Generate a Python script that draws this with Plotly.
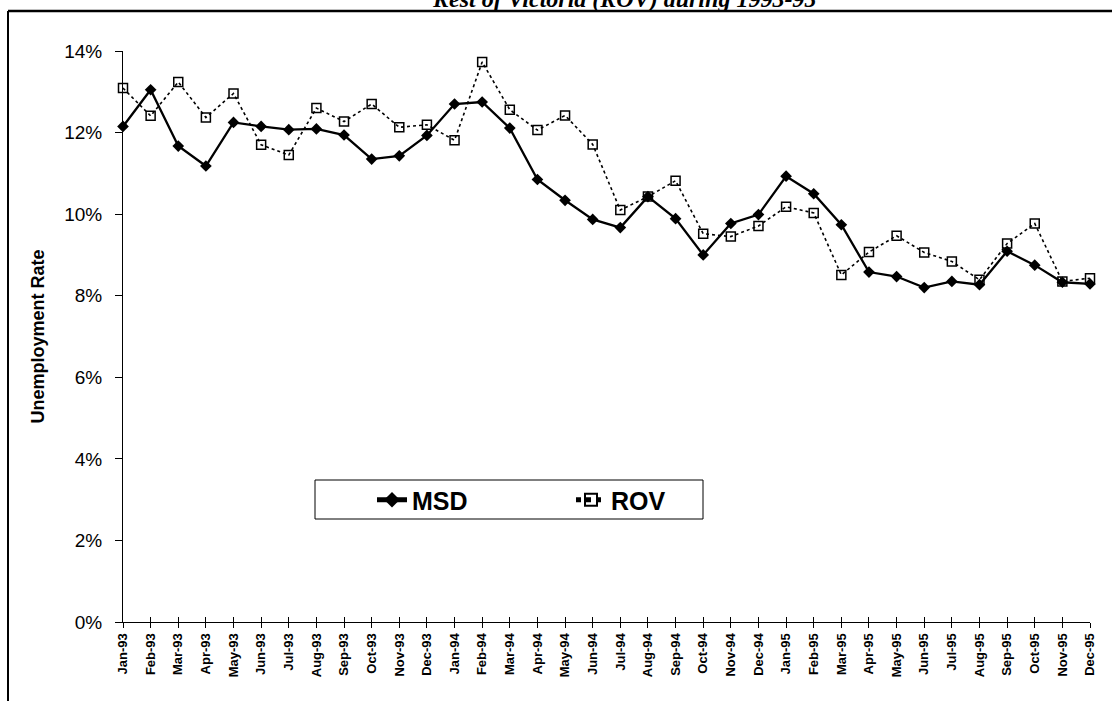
import plotly.graph_objects as go

months = ["Jan-93","Feb-93","Mar-93","Apr-93","May-93","Jun-93","Jul-93","Aug-93","Sep-93","Oct-93","Nov-93","Dec-93",
          "Jan-94","Feb-94","Mar-94","Apr-94","May-94","Jun-94","Jul-94","Aug-94","Sep-94","Oct-94","Nov-94","Dec-94",
          "Jan-95","Feb-95","Mar-95","Apr-95","May-95","Jun-95","Jul-95","Aug-95","Sep-95","Oct-95","Nov-95","Dec-95"]

msd = [12.15, 13.05, 11.67, 11.18, 12.25, 12.15, 12.07, 12.09, 11.94, 11.35, 11.43, 11.93,
       12.70, 12.75, 12.11, 10.85, 10.34, 9.87, 9.67, 10.43, 9.89, 9.00, 9.77, 9.99,
       10.93, 10.50, 9.74, 8.58, 8.47, 8.20, 8.35, 8.27, 9.09, 8.75, 8.33, 8.29]

rov = [13.09, 12.41, 13.24, 12.37, 12.96, 11.70, 11.45, 12.60, 12.27, 12.70, 12.13, 12.19,
       11.81, 13.73, 12.56, 12.06, 12.42, 11.71, 10.10, 10.43, 10.82, 9.52, 9.45, 9.71,
       10.18, 10.03, 8.51, 9.07, 9.47, 9.06, 8.84, 8.39, 9.28, 9.77, 8.35, 8.43]

y_ticks = [0, 2, 4, 6, 8, 10, 12, 14]
y_ticktext = ["0%", "2%", "4%", "6%", "8%", "10%", "12%", "14%"]

title_text = "Rest of Victoria (ROV) during 1993-95"
y_title = "Unemployment Rate"

x_idx = list(range(len(months)))

fig = go.Figure()
fig.add_trace(go.Scatter(
    x=x_idx, y=msd, name="MSD", mode="lines+markers",
    line=dict(color="black", width=2.3),
    marker=dict(symbol="diamond", size=9, color="black"),
    cliponaxis=False,
))
fig.add_trace(go.Scatter(
    x=x_idx, y=rov, name="ROV", mode="lines+markers",
    line=dict(color="black", width=1.6, dash="dot"),
    marker=dict(symbol="square-open", size=9, color="black", line=dict(width=1.5)),
    cliponaxis=False,
))

W, H = 1112, 701
L, R, T, B = 123, 22, 51, 79
pw, ph = W - L - R, H - T - B

def px_x(x):
    return (x - L) / pw

def px_y(y):
    return (H - B - y) / ph

fig.update_layout(
    width=W, height=H,
    margin=dict(l=L, r=R, t=T, b=B, pad=0),
    paper_bgcolor="white", plot_bgcolor="white",
    font=dict(family="Arial, Liberation Sans, sans-serif", color="black"),
    showlegend=True,
    legend=dict(
        orientation="h",
        x=px_x(372), y=px_y(500),
        xanchor="left", yanchor="middle",
        borderwidth=0, bgcolor="rgba(0,0,0,0)",
        font=dict(size=25, family="Arial, Liberation Sans, sans-serif", weight="bold"),
        entrywidth=154, entrywidthmode="pixels",
        itemsizing="constant",
    ),
    xaxis=dict(
        range=[0, len(months) - 1],
        tickmode="array", tickvals=x_idx, ticktext=months,
        tickangle=-90,
        tickfont=dict(size=13, weight="bold"),
        ticks="outside", ticklen=5, tickcolor="black", tickwidth=1,
        showline=True, linecolor="black", linewidth=1,
        showgrid=False, zeroline=False,
    ),
    yaxis=dict(
        range=[0, 14],
        tickmode="array", tickvals=y_ticks, ticktext=y_ticktext,
        tickfont=dict(size=19),
        ticks="outside", ticklen=7, tickcolor="black", tickwidth=1,
        ticklabelstandoff=9,
        showline=True, linecolor="black", linewidth=1,
        showgrid=False, zeroline=False,
        title=dict(text=y_title, font=dict(size=18, weight="bold"), standoff=14),
    ),
    xaxis2=dict(
        overlaying="x", range=[0, len(months) - 1],
        tickmode="array", tickvals=x_idx, showticklabels=False,
        ticks="inside", ticklen=5, tickcolor="black", tickwidth=1,
        showgrid=False, zeroline=False, showline=False, side="bottom",
    ),
)

# dummy trace to activate xaxis2 tick marks (crossing ticks)
fig.add_trace(go.Scatter(x=[0], y=[None], xaxis="x2", showlegend=False, hoverinfo="skip"))

# legend box
fig.add_shape(type="rect", xref="paper", yref="paper",
              x0=px_x(315), x1=px_x(703), y0=px_y(519), y1=px_y(480),
              line=dict(color="black", width=1), fillcolor="rgba(0,0,0,0)", layer="below")

# outer frame (top and left lines)
fig.add_shape(type="line", xref="paper", yref="paper",
              x0=px_x(8), x1=px_x(W), y0=px_y(11), y1=px_y(11),
              line=dict(color="black", width=2.5))
fig.add_shape(type="line", xref="paper", yref="paper",
              x0=px_x(8), x1=px_x(8), y0=px_y(11), y1=px_y(H + 5),
              line=dict(color="black", width=2))

# title (cut off at the top, as in the reference)
fig.add_annotation(
    text="<b><i>" + title_text + "</i></b>",
    xref="paper", yref="paper",
    x=px_x(624), y=px_y(14),
    xanchor="center", yanchor="bottom", showarrow=False,
    font=dict(family="Liberation Serif, Times New Roman, serif", size=24, color="black"),
)

fig.write_html("out.html", config={"displayModeBar": False},
               post_script="document.body.style.margin='0px';document.body.style.overflow='hidden';")
